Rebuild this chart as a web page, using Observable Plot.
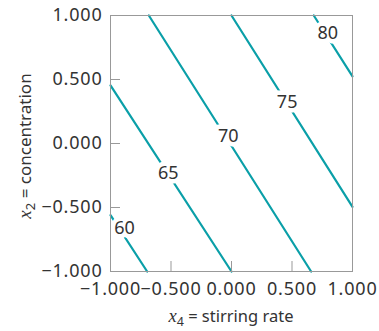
<!DOCTYPE html>
<html><head><meta charset="utf-8">
<script src="https://cdn.jsdelivr.net/npm/d3@7"></script>
<script src="https://cdn.jsdelivr.net/npm/@observablehq/plot@0.6"></script>
<style>
body{margin:0;background:#fff;}
#chart svg{display:block;}
#chart .ticklab text{letter-spacing:0.8px;}
</style>
</head><body><div id="chart"></div>
<script>
// contour levels and the end points of each straight contour line (x4, x2)
const levels  = [60, 65, 70, 75, 80];
const startX4 = [-1.000, -1.000, -0.683, 0.000, 0.680];
const startX2 = [-0.560,  0.454,  1.000, 1.000, 1.000];
const endX4   = [-0.697,  0.000,  0.658, 1.000, 1.000];
const endX2   = [-1.000, -1.000, -1.000, -0.495, 0.524];
// positions of the level labels
const labelX4 = [-0.884, -0.523, -0.027, 0.460, 0.796];
const labelX2 = [-0.663, -0.230,  0.057, 0.324, 0.865];
// axis ticks
const ticks = [-1, -0.5, 0, 0.5, 1];

const segs = levels.flatMap((lv, i) => [
  {level: lv, x4: startX4[i], x2: startX2[i]},
  {level: lv, x4: endX4[i],   x2: endX2[i]}
]);
const labels = levels.map((lv, i) => ({level: lv, x4: labelX4[i], x2: labelX2[i]}));
const fmt = d3.format(".3f");

const plot = Plot.plot({
  width: 379, height: 331,
  marginLeft: 110, marginRight: 27, marginTop: 15, marginBottom: 60,
  style: {fontFamily: "Noto Sans", fontSize: "18px", color: "#333", background: "white"},
  x: {domain: [-1, 1]},
  y: {domain: [-1, 1]},
  marks: [
    Plot.line(segs, {x: "x4", y: "x2", z: "level", stroke: "#0a9fa8", strokeWidth: 2.2}),
    Plot.text(labels, {x: "x4", y: "x2", text: d => String(d.level), fill: "#333",
      stroke: "white", strokeWidth: 9, fontSize: 18}),
    Plot.frame({stroke: "#999"}),
    Plot.axisX(ticks, {tickSize: -10, tickPadding: 21, stroke: "#999", fill: "#333",
      tickFormat: fmt, label: null, className: "ticklab"}),
    Plot.axisY(ticks, {tickSize: -10, tickPadding: 18, stroke: "#999", fill: "#333",
      tickFormat: fmt, label: null, className: "ticklab"})
  ]
});
document.getElementById("chart").appendChild(plot);

const svg = d3.select(plot);
function addLabel(g, sub, rest, size) {
  g.append("tspan").attr("font-family", "Liberation Serif").attr("font-style", "italic")
    .attr("font-size", size + 2).text("x");
  g.append("tspan").attr("font-family", "Noto Sans").attr("font-size", size - 4).attr("dy", 4).text(sub);
  g.append("tspan").attr("dy", -4).text(" " + rest);
}
const xl = svg.append("text").attr("x", 231).attr("y", 322).attr("text-anchor", "middle")
  .attr("fill", "#333").attr("font-family", "Noto Sans").attr("font-size", 16.5);
addLabel(xl, "4", "= stirring rate", 16.5);
const yl = svg.append("text").attr("transform", "translate(31,146) rotate(-90)")
  .attr("text-anchor", "middle").attr("fill", "#333").attr("font-family", "Noto Sans").attr("font-size", 17);
addLabel(yl, "2", "= concentration", 17);
</script>
</body></html>
